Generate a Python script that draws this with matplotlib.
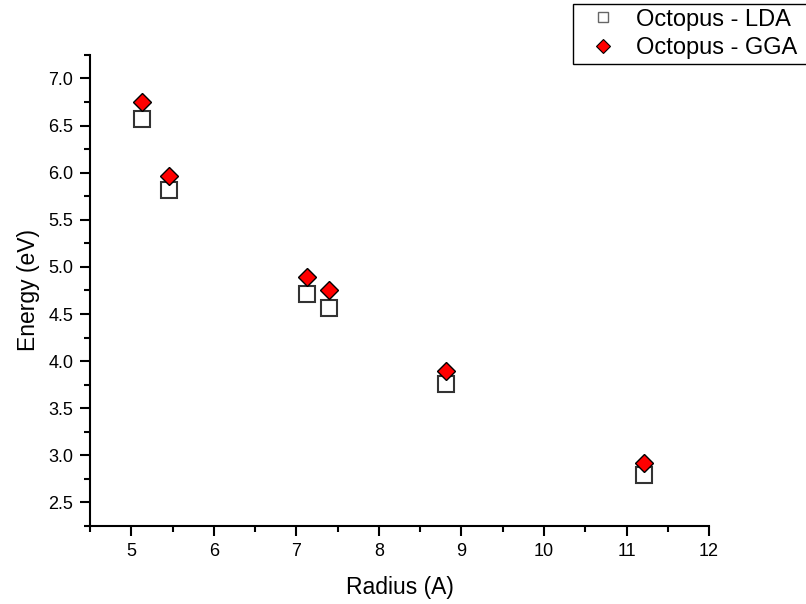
import matplotlib
matplotlib.use('Agg')
import matplotlib.pyplot as plt
from matplotlib.ticker import MultipleLocator, FormatStrFormatter
from matplotlib.lines import Line2D

# radius values (A)
radius = [5.13, 5.46, 7.13, 7.40, 8.81, 11.21]
# energies (eV)
energy_lda = [6.57, 5.82, 4.71, 4.56, 3.76, 2.79]
energy_gga = [6.75, 5.96, 4.89, 4.75, 3.89, 2.92]
labels = ['Octopus - LDA', 'Octopus - GGA']

plt.rcParams['font.family'] = ['Liberation Sans', 'DejaVu Sans']

fig = plt.figure(figsize=(8.06, 6.04), dpi=100)
ax = fig.add_axes([0.1117, 0.1291, 0.768, 0.78])

ax.plot(radius, energy_lda, linestyle='none', marker='s', markersize=12,
        markerfacecolor='white', markeredgecolor='#333333', markeredgewidth=1.5)
ax.plot(radius, energy_gga, linestyle='none', marker='D', markersize=9.5,
        markerfacecolor='red', markeredgecolor='black', markeredgewidth=1.0)

ax.set_xlim(4.5, 12)
ax.set_ylim(2.25, 7.25)
ax.xaxis.set_major_locator(MultipleLocator(1))
ax.xaxis.set_minor_locator(MultipleLocator(0.5))
ax.yaxis.set_major_locator(MultipleLocator(0.5))
ax.yaxis.set_minor_locator(MultipleLocator(0.25))
ax.yaxis.set_major_formatter(FormatStrFormatter('%.1f'))

for side in ['top', 'right']:
    ax.spines[side].set_visible(False)
for side in ['left', 'bottom']:
    ax.spines[side].set_linewidth(1.5)

ax.tick_params(which='major', direction='out', length=7, width=1.5, labelsize=13, pad=5)
ax.tick_params(which='minor', direction='out', length=4, width=1.5)

ax.set_xlabel('Radius (A)', fontsize=16.5, labelpad=12)
ax.set_ylabel('Energy (eV)', fontsize=16.5, labelpad=6)

# legend handles are smaller than the plotted markers
handles = [
    Line2D([], [], linestyle='none', marker='s', markersize=7,
           markerfacecolor='white', markeredgecolor='#666666', markeredgewidth=1.0),
    Line2D([], [], linestyle='none', marker='D', markersize=7.5,
           markerfacecolor='red', markeredgecolor='black', markeredgewidth=0.8),
]
leg = fig.legend(handles, labels, loc='upper left', mode='expand',
                 bbox_to_anchor=(573 / 806, 0, 0.4, 1 - 4 / 604),
                 borderaxespad=0, fontsize=17, fancybox=False,
                 edgecolor='black', framealpha=1, borderpad=0.2,
                 labelspacing=0.27, handlelength=2.1, handletextpad=0.38)
leg.get_frame().set_linewidth(1.0)

plt.savefig('out.png', dpi=100)
